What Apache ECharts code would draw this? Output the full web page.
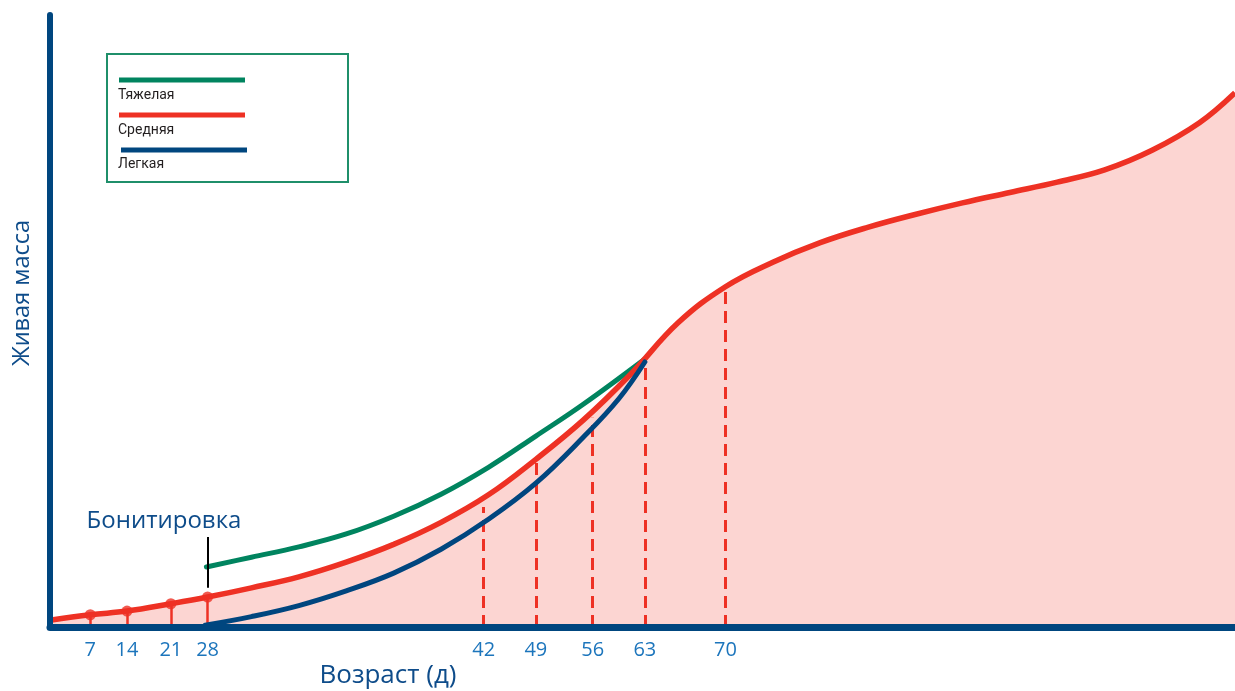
<!DOCTYPE html>
<html>
<head>
<meta charset="utf-8">
<script src="https://cdn.jsdelivr.net/npm/echarts@6/dist/echarts.min.js"></script>
<style>
html,body{margin:0;padding:0;background:#fff;}
#chart{width:1235px;height:691px;}
</style>
</head>
<body>
<div id="chart"></div>
<script>
// Schematic horizontal position (0..100) of each age tick, and the age labels
const tickPos = [3.4, 6.5, 10.2, 13.3, 36.6, 41.0, 45.8, 50.2, 57.0];
const tickAges = [7, 14, 21, 28, 42, 49, 56, 63, 70];

// Live mass curves: [position, relative mass]
const medium = [[0,1.1],[3.4,2.0],[6.5,2.6],[10.2,3.8],[13.3,4.9],[17,6.4],[21,8.2],[25,10.6],[29,13.5],[33,17.1],[37,21.6],[41,27.4],[45,33.8],[49,41.3],[53,49.7],[57,55.6],[61,59.6],[65,62.8],[69,65.3],[73,67.4],[77,69.3],[81,71.0],[85,72.7],[89,74.7],[93,77.9],[97,82.4],[100,87.3]];
const heavy = [[13.2,9.8],[17,11.4],[21,13.1],[25,15.2],[29,18.1],[33,21.7],[37,26.1],[41,31.2],[45,36.4],[50.2,43.8]];
const light = [[13.1,0.3],[17,1.7],[21,3.5],[25,5.9],[29,8.8],[33,12.7],[37,17.6],[41,23.5],[45,31.0],[48,37.3],[50.2,43.3]];

// Early weighing points (solid drops) and later dashed markers
const earlyPos = [3.4, 6.5, 10.2, 13.3];
const earlyMass = [2.0, 2.6, 3.8, 4.9];
const dashPos = [36.6, 41.0, 45.8, 50.2, 57.0];
const dashTop = [19.6, 27.6, 34.2, 43.3, 55.4];

// Grading marker
const gradePos = 13.3;
const gradeRange = [6.4, 14.7];

const RED = '#ee3124', GREEN = '#00845f', BLUE = '#00467f';

const chart = echarts.init(document.getElementById('chart'));

const solidDrops = earlyPos.map((p, i) => [{coord: [p, 0]}, {coord: [p, earlyMass[i]]}]);
const dashed = dashPos.map((p, i) => [{coord: [p, 0]}, {coord: [p, dashTop[i]]}]);

chart.setOption({
  animation: false,
  grid: {left: 50, right: 0, top: 15, bottom: 64},
  xAxis: {
    type: 'value', min: 0, max: 100, z: 10,
    axisLine: {show: true, onZero: false, lineStyle: {color: BLUE, width: 7}},
    axisTick: {show: false},
    splitLine: {show: false},
    axisLabel: {
      customValues: tickPos,
      formatter: v => { const i = tickPos.indexOf(v); return i >= 0 ? String(tickAges[i]) : ''; },
      color: '#1c75bc', fontSize: 20, fontFamily: 'Open Sans', margin: 13
    }
  },
  yAxis: {
    type: 'value', min: 0, max: 100, z: 10,
    axisLine: {show: true, lineStyle: {color: BLUE, width: 6}},
    axisTick: {show: false}, axisLabel: {show: false}, splitLine: {show: false}
  },
  series: [
    {
      name: 'Тяжелая', type: 'line', data: heavy, smooth: 0.4, symbol: 'none', z: 3,
      lineStyle: {color: GREEN, width: 5, cap: 'round'}
    },
    {
      name: 'Средняя', type: 'line', data: medium, smooth: 0.4, symbol: 'none', z: 4,
      lineStyle: {color: RED, width: 5.5},
      areaStyle: {color: '#fcd5d2', opacity: 1},
      markLine: {
        silent: true, symbol: 'none', label: {show: false},
        lineStyle: {color: RED, width: 3, type: [12, 7]},
        data: dashed
      }
    },
    {
      name: 'drops', type: 'line', data: [], z: 4,
      markLine: {
        silent: true, symbol: 'none', label: {show: false},
        lineStyle: {color: RED, width: 2.5, type: 'solid'},
        data: solidDrops
      }
    },
    {
      name: 'grade', type: 'line', data: [], z: 6,
      markLine: {
        silent: true, symbol: 'none', label: {show: false},
        lineStyle: {color: '#000', width: 2, type: 'solid'},
        data: [[{coord: [gradePos, gradeRange[0]]}, {coord: [gradePos, gradeRange[1]]}]]
      }
    },
    {
      name: 'points', type: 'scatter', z: 6, symbolSize: 11,
      itemStyle: {color: RED},
      data: earlyPos.map((p, i) => [p, earlyMass[i]])
    },
    {
      name: 'Легкая', type: 'line', data: light, smooth: 0.4, symbol: 'none', z: 5,
      lineStyle: {color: BLUE, width: 5, cap: 'round'}
    }
  ],
  graphic: [
    {type: 'rect', shape: {x: 107, y: 54, width: 241, height: 128},
     style: {fill: '#fff', stroke: '#1f8f6a', lineWidth: 2}, z: 20},
    {type: 'line', shape: {x1: 119, y1: 80, x2: 245, y2: 80}, style: {stroke: GREEN, lineWidth: 5}, z: 21},
    {type: 'line', shape: {x1: 119, y1: 115, x2: 245, y2: 115}, style: {stroke: RED, lineWidth: 5}, z: 21},
    {type: 'line', shape: {x1: 121, y1: 150, x2: 247, y2: 150}, style: {stroke: BLUE, lineWidth: 5}, z: 21},
    {type: 'text', x: 118, y: 95, z: 21, style: {text: 'Тяжелая', fill: '#231f20', font: '14px "Liberation Sans Narrow", "Roboto", sans-serif', verticalAlign: 'middle'}},
    {type: 'text', x: 118, y: 130, z: 21, style: {text: 'Средняя', fill: '#231f20', font: '14px "Liberation Sans Narrow", "Roboto", sans-serif', verticalAlign: 'middle'}},
    {type: 'text', x: 118, y: 164, z: 21, style: {text: 'Легкая', fill: '#231f20', font: '14px "Liberation Sans Narrow", "Roboto", sans-serif', verticalAlign: 'middle'}},
    {type: 'text', x: 164, y: 521, z: 21, style: {text: 'Бонитировка', fill: '#0e4c8a', font: '24px "Open Sans", sans-serif', align: 'center', verticalAlign: 'middle'}},
    {type: 'text', x: 388, y: 676, z: 21, style: {text: 'Возраст (д)', fill: '#0e4c8a', font: '26px "Open Sans", sans-serif', align: 'center', verticalAlign: 'middle'}},
    {type: 'text', x: 22, y: 293, rotation: Math.PI / 2, z: 21, style: {text: 'Живая масса', fill: '#0e4c8a', font: '23.5px "Open Sans", sans-serif', align: 'center', verticalAlign: 'middle'}}
  ]
});
</script>
</body>
</html>
